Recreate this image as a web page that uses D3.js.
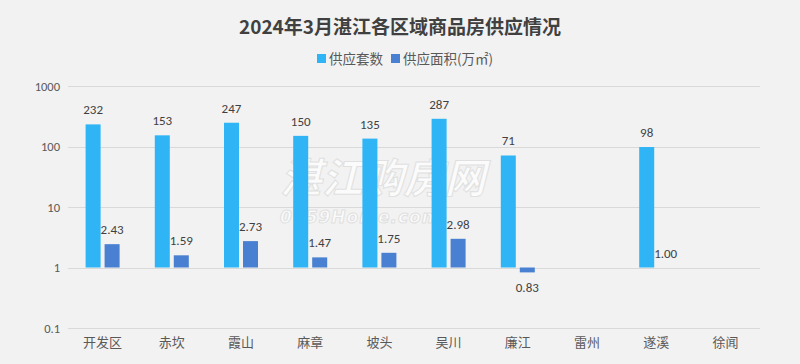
<!DOCTYPE html>
<meta charset='utf-8'>
<style>
  body { margin:0; background:#f2f2f2; }
  text { font-family:'Noto Sans CJK SC','Noto Sans',sans-serif; }
  .grid line { stroke:#d9d9d9; stroke-width:1px; }
</style>
<body>
  <div id='chart'></div>
  <script src='https://d3js.org/d3.v7.min.js'></script>
  <script>
    var categories = ['开发区','赤坎','霞山','麻章','坡头','吴川','廉江','雷州','遂溪','徐闻'];
    var seriesNames = ['供应套数','供应面积(万㎡)'];
    var units = [232,153,247,150,135,287,71,null,98,null];
    var area = [2.43,1.59,2.73,1.47,1.75,2.98,0.83,null,1.00,null];
    var yTicks = [0.1,1,10,100,1000];
    var colors = ['#2fb5f6','#4a80d1'];

    var width = 800, height = 364;
    var margin = {top:86, right:40, bottom:36, left:68};

    var svg = d3.select('#chart').append('svg')
      .attr('width',width)
      .attr('height',height);

    svg.append('rect').attr('width',width).attr('height',height).attr('fill','#f2f2f2');

    var x0 = d3.scaleBand()
      .domain(categories)
      .range([margin.left,width-margin.right]);
    var x1 = d3.scaleBand()
      .domain([0,1])
      .range([x0.bandwidth()/2-17,x0.bandwidth()/2+17])
      .paddingInner(0.21);
    var y = d3.scaleLog()
      .domain([0.1,1000])
      .range([height-margin.bottom,margin.top]);

    // grid -----------------------------------------------------------------
    svg.append('g')
      .attr('class','grid')
      .selectAll('line')
      .data(yTicks)
      .join('line')
      .attr('x1',margin.left)
      .attr('x2',width-margin.right)
      .attr('y1',d => Math.round(y(d))+0.5)
      .attr('y2',d => Math.round(y(d))+0.5);

    // y axis labels
    var yAxis = d3.axisLeft(y).tickValues(yTicks).tickFormat(d => String(d)).tickSize(0).tickPadding(8);
    var gy = svg.append('g').attr('transform','translate('+margin.left+',0)').call(yAxis);
    gy.select('.domain').remove();
    gy.selectAll('text').attr('fill','#595959').style('font-size','12.5px').style('font-family','Calibri,Carlito,"Liberation Sans",sans-serif');

    // x axis labels
    var xAxis = d3.axisBottom(x0).tickSize(0).tickPadding(10);
    var gx = svg.append('g').attr('transform','translate(0,'+(height-margin.bottom)+')').call(xAxis);
    gx.select('.domain').remove();
    gx.selectAll('text').attr('fill','#595959').style('font-size','13px');

    // watermark
    svg.append('text')
      .attr('x',383).attr('y',193)
      .attr('text-anchor','middle')
      .attr('fill','#ffffff').attr('fill-opacity',0.75)
      .attr('stroke','#e0e0e0').attr('stroke-width',1)
      .style('font-size','41px').style('font-weight','bold').style('font-style','italic')
      .text('湛江购房网');
    svg.append('text')
      .attr('x',280).attr('y',223)
      .attr('fill','#ffffff').attr('fill-opacity',0.75)
      .attr('stroke','#e0e0e0').attr('stroke-width',1)
      .style('font-size','17px').style('font-weight','bold').style('font-style','italic')
      .style('letter-spacing','1px')
      .style('font-family','"DejaVu Sans",sans-serif')
      .text('0759Home.com');

    // bars -----------------------------------------------------------------
    var series = [units,area];
    series.forEach(function(vals,si) {
      var data = categories.map((c,i) => ({c:c, v:vals[i]})).filter(d => d.v != null);
      var g = svg.append('g');
      g.selectAll('rect')
        .data(data)
        .join('rect')
        .attr('x',d => x0(d.c)+x1(si))
        .attr('width',x1.bandwidth())
        .attr('y',d => Math.min(y(d.v),y(1)))
        .attr('height',d => Math.abs(y(d.v)-y(1)))
        .attr('fill',colors[si]);
      g.selectAll('text')
        .data(data)
        .join('text')
        .attr('x',d => x0(d.c)+x1(si)+x1.bandwidth()/2)
        .attr('y',d => d.v < 1 ? y(d.v)+20 : y(d.v)-10)
        .attr('text-anchor','middle')
        .attr('fill','#404040')
        .style('font-size','13px')
        .style('font-family','Calibri,Carlito,"Liberation Sans",sans-serif')
        .text(d => si === 0 ? d3.format('d')(d.v) : d3.format('.2f')(d.v));
    });

    // title + legend -----------------------------------------------------------
    svg.append('text')
      .attr('x',width/2).attr('y',34)
      .attr('text-anchor','middle')
      .attr('fill','#404040')
      .style('font-size','19px').style('font-weight','bold')
      .text('2024年3月湛江各区域商品房供应情况');

    var legend = svg.append('g');
    var lx = [317,391];
    seriesNames.forEach(function(name,i) {
      legend.append('rect')
        .attr('x',lx[i]).attr('y',54)
        .attr('width',9).attr('height',9)
        .attr('fill',colors[i]);
      legend.append('text')
        .attr('x',lx[i]+12).attr('y',63.5)
        .attr('fill','#595959')
        .style('font-size','13.5px')
        .text(name);
    });
  </script>
</body>
